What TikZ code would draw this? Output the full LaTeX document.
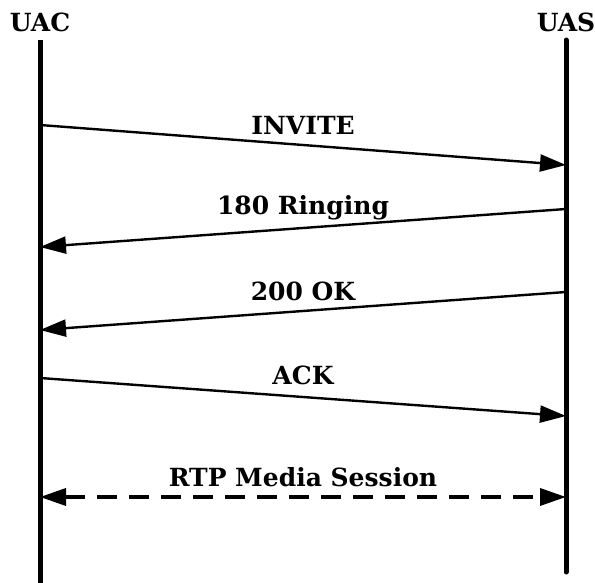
\documentclass[tikz,border=0pt]{standalone}
\usepackage{fontspec}
\setmainfont{DejaVu Serif}
\usetikzlibrary{arrows.meta}
\begin{document}
\begin{tikzpicture}[x=1pt,y=-1pt,
  lifeline/.style={line width=5pt},
  msg/.style={line width=2.4pt,-{Triangle[length=26pt,width=17pt]}},
  media/.style={line width=3.5pt,dash pattern=on 20pt off 12pt,{Triangle[length=26pt,width=17pt]}-{Triangle[length=26pt,width=17pt]}},
  lbl/.style={font=\bfseries\fontsize{25}{28}\selectfont,inner sep=0pt}]
\useasboundingbox (0,0) rectangle (595,583);
\node[lbl] (uac) at (40,22) {UAC};
\node[lbl] (uas) at (566,22) {UAS};
\coordinate (ltop) at (40,40);
\coordinate (lbot) at (40,583);
\coordinate (rtop) at (566,40);
\coordinate (rbot) at (566,572);
\draw[lifeline] (ltop) -- (lbot);
\draw[lifeline,line cap=round] (rtop) -- (rbot);
\coordinate (a1) at (40,125); \coordinate (b1) at (566,165);
\coordinate (b2) at (566,209); \coordinate (a2) at (40,247);
\coordinate (b3) at (566,292); \coordinate (a3) at (40,330);
\coordinate (a4) at (40,378); \coordinate (b4) at (566,416);
\coordinate (a5) at (40,497); \coordinate (b5) at (566,497);
\draw[msg] (a1) -- (b1);
\draw[msg] (b2) -- (a2);
\draw[msg] (b3) -- (a3);
\draw[msg] (a4) -- (b4);
\draw[media] (a5) -- (b5);
\node[lbl] (l1) at (303,125) {INVITE};
\node[lbl] (l2) at (303,208) {180 Ringing};
\node[lbl] (l3) at (303,291) {200 OK};
\node[lbl] (l4) at (303,375) {ACK};
\node[lbl] (l5) at (303,477) {RTP Media Session};
\end{tikzpicture}
\end{document}
